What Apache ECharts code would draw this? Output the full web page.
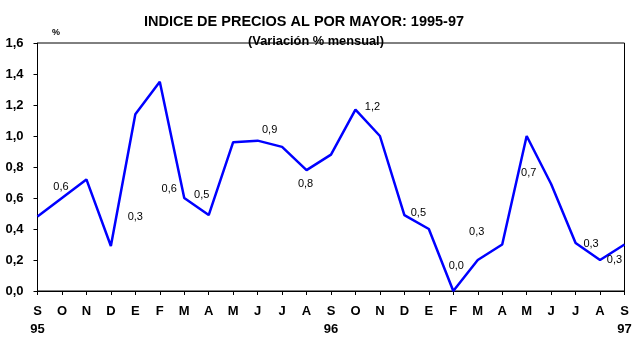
<!DOCTYPE html>
<html>
<head>
<meta charset="utf-8">
<script src="https://cdn.jsdelivr.net/npm/echarts@6/dist/echarts.min.js"></script>
<style>
html,body{margin:0;padding:0;background:#fff;}
#chart{width:641px;height:343px;}
</style>
</head>
<body>
<div id="chart"></div>
<script>
// ---- data ----
const months = ["S","O","N","D","E","F","M","A","M","J","J","A","S","O","N","D","E","F","M","A","M","J","J","A","S"];
const years = ["95","","","","","","","","","","","","96","","","","","","","","","","","","97"];
const values = [0.48,0.60,0.72,0.29,1.14,1.35,0.60,0.49,0.96,0.97,0.93,0.78,0.88,1.17,1.00,0.49,0.40,0.00,0.20,0.30,1.00,0.69,0.31,0.20,0.30];
const pointLabels = [null,"0,6",null,null,"0,3",null,"0,6","0,5",null,"0,9",null,"0,8",null,"1,2",null,"0,5",null,"0,0","0,3",null,"0,7",null,null,"0,3","0,3"];
const yTicks = [0,0.2,0.4,0.6,0.8,1.0,1.2,1.4,1.6];

// ---- styles (label offsets in px) ----
const labelOffsets = {1:[-1,-11],4:[0,103],6:[-15,-9],7:[-7,-20],9:[12,-11],11:[-1,14],13:[17,-3],15:[14,-2],17:[3,-25],18:[-1,-28],20:[2,37],23:[-9,-16],24:[-10,15]};
const FONT = 'Arial, "Liberation Sans", sans-serif';

const cats = months.map((m,i)=> years[i] ? m + "\n" + years[i] : m);
const seriesData = values.map((v,i)=>{
  const t = pointLabels[i];
  if (!t) return v;
  return {value:v, label:{show:true, formatter:t, position:'inside', offset:labelOffsets[i]||[0,0],
    color:'#000', fontSize:11, fontFamily:FONT}};
});

const chart = echarts.init(document.getElementById('chart'), null, {renderer:'canvas'});
chart.setOption({
  animation:false,
  backgroundColor:'#fff',
  title:[
    {text:'INDICE DE PRECIOS AL POR MAYOR: 1995-97', left:299, top:9, textAlign:'center',
     textStyle:{fontSize:14.5, fontWeight:'bold', color:'#000', fontFamily:FONT}},
    {text:'(Variación % mensual)', left:311, top:30, textAlign:'center',
     textStyle:{fontSize:12.8, fontWeight:'bold', color:'#000', fontFamily:FONT}},
    {text:'%', left:47, top:23,
     textStyle:{fontSize:9, fontWeight:'bold', color:'#000', fontFamily:FONT}}
  ],
  grid:{left:37.5, right:16.5, top:43, bottom:52, show:true, borderColor:'#000', borderWidth:1, containLabel:false},
  xAxis:{
    type:'category', data:cats, boundaryGap:false,
    axisLine:{lineStyle:{color:'#000', width:1}},
    axisTick:{show:true, length:4, interval:0, lineStyle:{color:'#000'}},
    axisLabel:{interval:0, color:'#000', fontSize:13, fontWeight:'bold', fontFamily:FONT, margin:11, lineHeight:18},
    splitLine:{show:false}
  },
  yAxis:{
    type:'value', min:yTicks[0], max:yTicks[yTicks.length-1], interval:0.2,
    axisLine:{show:true, lineStyle:{color:'#000', width:1}},
    axisTick:{show:true, length:4, lineStyle:{color:'#000'}},
    axisLabel:{color:'#000', fontSize:13, fontWeight:'bold', fontFamily:FONT, margin:14,
      formatter:v=>v.toFixed(1).replace('.',',')},
    splitLine:{show:false}
  },
  series:[{
    type:'line', data:seriesData, symbol:'circle', symbolSize:1, showSymbol:true,
    lineStyle:{color:'#0000ff', width:2.5},
    itemStyle:{color:'rgba(0,0,255,0)'}
  }]
});
</script>
</body>
</html>
